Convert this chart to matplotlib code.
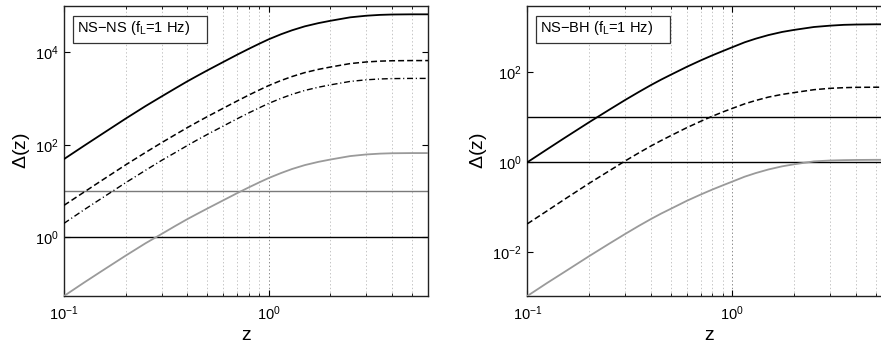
import matplotlib
matplotlib.use("Agg")
import matplotlib.pyplot as plt
from matplotlib.patches import Rectangle
from matplotlib.ticker import LogLocator, NullFormatter, FixedLocator

plt.rcParams['font.family'] = ['Liberation Sans', 'DejaVu Sans']
plt.rcParams['mathtext.fontset'] = 'custom'
plt.rcParams['mathtext.rm'] = 'Liberation Sans'
plt.rcParams['mathtext.it'] = 'Liberation Sans:italic'
plt.rcParams['mathtext.bf'] = 'Liberation Sans:bold'
plt.rcParams['lines.scale_dashes'] = False

# ---------------- data ----------------
z = [0.1, 0.125, 0.15, 0.2, 0.25, 0.3, 0.35, 0.4, 0.45, 0.5, 0.6, 0.7, 0.8, 0.9,
     1.0, 1.15, 1.3, 1.5, 1.75, 2.0, 2.5, 3.0, 3.5, 4.0, 5.0, 6.0]

# NS-NS panel
nsns_solid = [49.0, 94.4, 160, 367, 684, 1109, 1660, 2344, 3126, 4027, 6166, 8810, 11885, 15311,
              19055, 24547, 29854, 36308, 42658, 47863, 56885, 61660, 64269, 65464, 66069, 66069]
nsns_dash = [4.9, 9.4, 16.0, 36.7, 68, 111, 166, 234, 313, 403, 617, 881, 1189, 1531,
             1906, 2455, 2985, 3631, 4266, 4786, 5689, 6166, 6427, 6546, 6607, 6607]
nsns_dashdot = [2.0, 3.9, 6.6, 15.1, 28, 46, 68, 96, 129, 166, 254, 363, 489, 630,
                784, 1010, 1229, 1494, 1755, 1970, 2341, 2537, 2645, 2694, 2719, 2719]
nsns_gray = [0.0537, 0.104, 0.176, 0.40, 0.74, 1.18, 1.76, 2.46, 3.25, 4.15, 6.3, 8.95, 12.0, 15.4,
             19.1, 24.5, 29.9, 36.3, 42.7, 47.9, 56.9, 61.7, 64.3, 65.5, 66.1, 66.1]
nsns_thresholds = [10, 1]
nsns_threshold_colors = ['#7a7a7a', 'black']

# NS-BH panel
nsbh_solid = [1.0, 1.95, 3.35, 7.76, 14.6, 24.3, 36.7, 51.9, 69.2, 88.1, 133, 184, 240, 299,
              363, 468, 562, 676, 794, 881, 1023, 1096, 1143, 1161, 1175, 1175]
nsbh_dash = [0.0427, 0.0832, 0.1445, 0.339, 0.638, 1.07, 1.62, 2.29, 3.05, 3.89, 5.89, 8.13, 10.6, 13.2,
             15.8, 20.0, 23.7, 28.2, 32.4, 35.5, 41.2, 44.2, 45.7, 46.5, 46.8, 46.8]
nsbh_gray = [0.00106, 0.00207, 0.00351, 0.00813, 0.0153, 0.0254, 0.0385, 0.0543, 0.0724, 0.0918,
             0.139, 0.191, 0.248, 0.308, 0.372, 0.479, 0.575, 0.692, 0.813, 0.902, 1.047, 1.096,
             1.117, 1.127, 1.135, 1.135]
nsbh_thresholds = [10, 1]
nsbh_threshold_colors = ['black', 'black']

xlim = (0.1, 6.0)
xticks = [0.1, 1.0]
xticklabels = ['$10^{-1}$', '$10^{0}$']
nsns_ylim = (0.0537, 1e5)
nsns_yticks = [1, 1e2, 1e4]
nsns_yticklabels = ['$10^{0}$', '$10^{2}$', '$10^{4}$']
nsbh_ylim = (0.00106, 3.0e3)
nsbh_yticks = [1e-2, 1, 1e2]
nsbh_yticklabels = ['$10^{-2}$', '$10^{0}$', '$10^{2}$']

GRAY = '#9a9a9a'

fig = plt.figure(figsize=(8.81, 3.48), dpi=100)
W, H = 881.0, 348.0
ax1 = fig.add_axes([64 / W, (H - 296) / H, 364 / W, 290 / H])
ax2 = fig.add_axes([527.3 / W, (H - 296) / H, 364.5 / W, 290 / H])


def style(ax, ylim, yticks, yticklabels, title):
    ax.set_xscale('log')
    ax.set_yscale('log')
    ax.set_xlim(*xlim)
    ax.set_ylim(*ylim)
    ax.xaxis.set_major_locator(FixedLocator(xticks))
    ax.set_xticklabels(xticklabels, fontsize=10.5)
    ax.xaxis.set_minor_locator(LogLocator(base=10, subs=[2, 3, 4, 5, 6, 7, 8, 9]))
    ax.xaxis.set_minor_formatter(NullFormatter())
    ax.yaxis.set_major_locator(FixedLocator(yticks))
    ax.set_yticklabels(yticklabels, fontsize=10.5)
    ax.yaxis.set_minor_locator(FixedLocator([]))
    ax.tick_params(which='both', direction='in', top=True, right=True)
    ax.tick_params(which='major', length=4, width=0.8, pad=6)
    ax.tick_params(which='minor', length=2.5, width=0.6)
    ax.tick_params(axis='y', which='major', pad=4)
    ax.grid(True, which='major', axis='x', linestyle=':', color='#8a8a8a', linewidth=0.7)
    ax.grid(True, which='minor', axis='x', linestyle=':', color='#c4c4c4', linewidth=0.7)
    for s in ax.spines.values():
        s.set_linewidth(1.0)
        s.set_color('#222222')
    ax.set_xlabel('z', fontsize=14, labelpad=3)
    ax.set_ylabel(r'$\Delta$(z)', fontsize=14, labelpad=2)
    ax.add_patch(Rectangle((0.024, 0.871), 0.368, 0.0945, transform=ax.transAxes,
                           facecolor='white', edgecolor='#333333', linewidth=0.9, zorder=5))
    ax.text(0.035, 0.925, title, transform=ax.transAxes, fontsize=10.5,
            va='center', ha='left', zorder=6)


style(ax1, nsns_ylim, nsns_yticks, nsns_yticklabels, r'NS$-$NS (f$_\mathregular{L}$=1 Hz)')
for yv, c in zip(nsns_thresholds, nsns_threshold_colors):
    ax1.axhline(yv, color=c, linewidth=1.0, zorder=2)
ax1.plot(z, nsns_solid, color='black', linewidth=1.3, zorder=3)
ax1.plot(z, nsns_dash, color='black', linewidth=1.1, dashes=(4.3, 2.2), zorder=3)
ax1.plot(z, nsns_dashdot, color='black', linewidth=1.0, dashes=(4.3, 2.0, 0.8, 2.0), zorder=3)
ax1.plot(z, nsns_gray, color=GRAY, linewidth=1.3, zorder=3)

style(ax2, nsbh_ylim, nsbh_yticks, nsbh_yticklabels, r'NS$-$BH (f$_\mathregular{L}$=1 Hz)')
for yv, c in zip(nsbh_thresholds, nsbh_threshold_colors):
    ax2.axhline(yv, color=c, linewidth=1.0, zorder=2)
ax2.plot(z, nsbh_solid, color='black', linewidth=1.3, zorder=3)
ax2.plot(z, nsbh_dash, color='black', linewidth=1.1, dashes=(4.3, 2.2), zorder=3)
ax2.plot(z, nsbh_gray, color=GRAY, linewidth=1.3, zorder=3)

fig.savefig('out.png', dpi=100)
